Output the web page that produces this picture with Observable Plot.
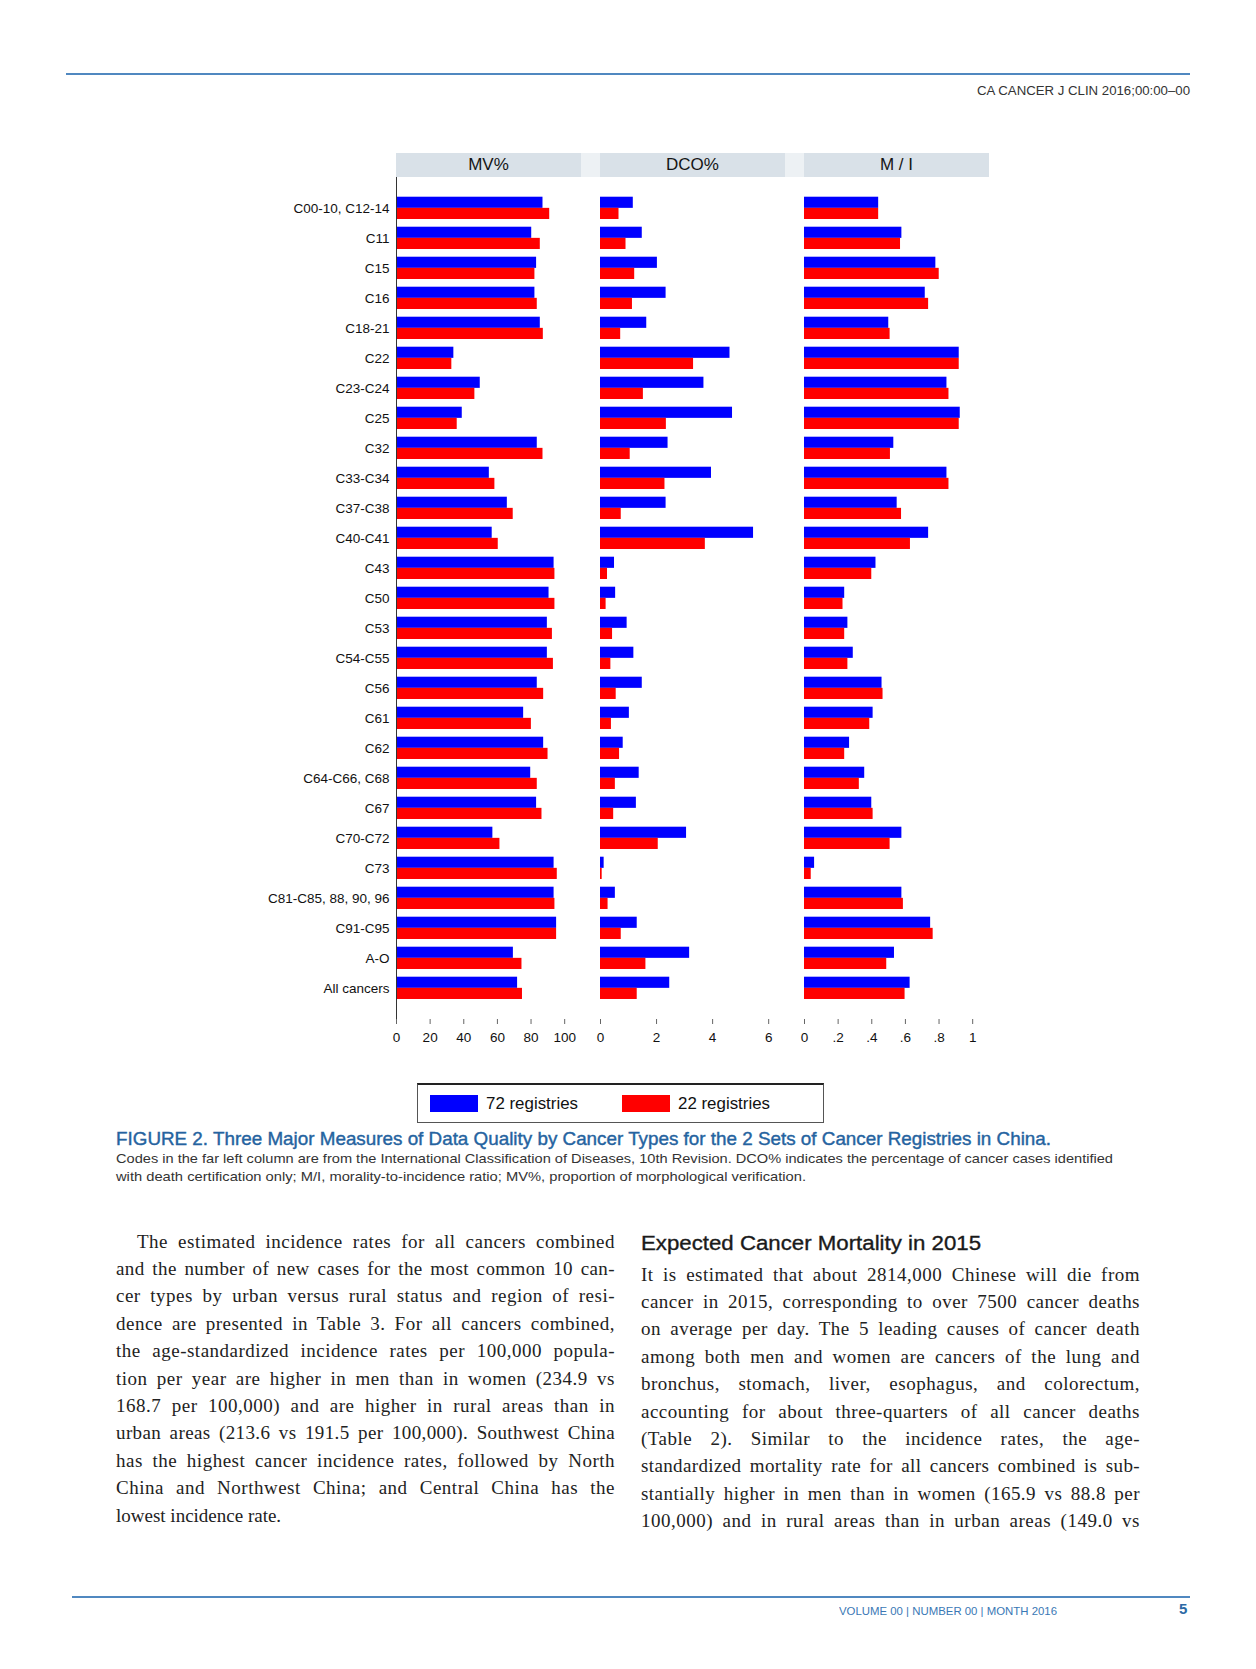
<!DOCTYPE html>
<html><head><meta charset="utf-8">
<script src="https://cdn.jsdelivr.net/npm/d3@7"></script>
<script src="https://cdn.jsdelivr.net/npm/@observablehq/plot@0.6"></script>
<style>
html,body{margin:0;padding:0;background:#fff;}
#page{position:relative;width:1256px;height:1669px;overflow:hidden;background:#fff;font-family:"Liberation Sans",Arial,sans-serif;}
.abs{position:absolute;}
.ln{white-space:nowrap;display:inline-block;}
</style></head>
<body><div id="page"></div>
<script>
// ---------- data ----------
const categories = ["C00-10, C12-14","C11","C15","C16","C18-21","C22","C23-C24","C25","C32","C33-C34","C37-C38","C40-C41","C43","C50","C53","C54-C55","C56","C61","C62","C64-C66, C68","C67","C70-C72","C73","C81-C85, 88, 90, 96","C91-C95","A-O","All cancers"];
const seriesNames = ["72 registries","22 registries"];
const mv72  = [87.1,80.4,83.3,82.3,85.5,34.1,49.8,39.1,83.7,55.2,65.9,56.9,93.7,90.7,89.7,89.7,83.7,75.6,87.5,79.8,83.3,57.3,93.7,93.7,95.2,69.5,72.0];
const mv22  = [91.1,85.5,82.3,83.7,87.3,32.9,46.6,36.1,87.1,58.5,69.4,60.5,94.2,94.2,92.7,93.3,87.5,80.2,90.1,83.7,86.5,61.5,95.6,94.2,95.2,74.6,74.9];
const dco72 = [1.17,1.49,2.03,2.34,1.65,4.62,3.69,4.71,2.41,3.96,2.34,5.46,0.50,0.54,0.95,1.19,1.49,1.03,0.81,1.38,1.28,3.07,0.13,0.53,1.31,3.18,2.47];
const dco22 = [0.66,0.91,1.22,1.14,0.72,3.32,1.53,2.35,1.06,2.30,0.74,3.74,0.25,0.20,0.43,0.37,0.56,0.39,0.68,0.53,0.47,2.06,0.06,0.27,0.74,1.62,1.31];
const mi72  = [0.441,0.579,0.781,0.718,0.501,0.920,0.847,0.926,0.531,0.847,0.551,0.738,0.425,0.239,0.258,0.290,0.461,0.408,0.268,0.358,0.400,0.579,0.060,0.579,0.750,0.535,0.628];
const mi22  = [0.441,0.571,0.801,0.738,0.509,0.920,0.859,0.920,0.511,0.859,0.577,0.630,0.400,0.229,0.239,0.258,0.467,0.388,0.239,0.326,0.408,0.509,0.040,0.588,0.765,0.489,0.598];
const panelTitles = ["MV%","DCO%","M / I"];
const mvTicks = [0,20,40,60,80,100];
const dcoTicks = [0,2,4,6];
const miTicks = [0,0.2,0.4,0.6,0.8,1];

const rows = categories.map((c,i)=>({cat:c, mv72:mv72[i], mv22:mv22[i], dco72:dco72[i], dco22:dco22[i], mi72:mi72[i], mi22:mi22[i]}));

const page = document.getElementById("page");
const BLUE = "#0000ff", RED = "#ff0000";
const PAD = 0.257, STEP = 30, HALF = STEP*(1-PAD)/2;

function panel(o){
  const marks = [
    Plot.barX(rows,{x:o.k72, y:"cat", fill:BLUE, insetBottom:HALF}),
    Plot.barX(rows,{x:o.k22, y:"cat", fill:RED, insetTop:HALF}),
    Plot.axisX({ticks:o.ticks, tickFormat:o.fmt, tickSize:5, tickPadding:8, line:true, stroke:"#666", fill:"#111", label:null})
  ];
  if (o.yAxis){
    marks.push(Plot.axisY({tickSize:0, tickPadding:7, fill:"#111", label:null}));
    marks.push(Plot.ruleX([0],{stroke:"#333", strokeWidth:1}));
  }
  const svg = Plot.plot({
    width:o.width, height:875, marginLeft:o.ml, marginRight:10, marginTop:0, marginBottom:33,
    style:{fontSize:"13.5px", fontFamily:"'Liberation Sans', Arial, sans-serif", color:"#111", background:"transparent", overflow:"visible"},
    x:{domain:o.domain, axis:null},
    y:{domain:categories, padding:PAD, round:false, insetTop:12, insetBottom:12.3, axis:null},
    marks
  });
  const d = document.createElement("div");
  d.className="abs"; d.style.left=o.left+"px"; d.style.top="177px";
  d.appendChild(svg); page.appendChild(d);
}
panel({k72:"mv72",k22:"mv22",domain:[0,110],ticks:mvTicks,fmt:d=>String(d),yAxis:true,left:226,ml:170,width:365});
panel({k72:"dco72",k22:"dco22",domain:[0,6.6],ticks:dcoTicks,fmt:d=>String(d),yAxis:false,left:590,ml:10,width:205});
panel({k72:"mi72",k22:"mi22",domain:[0,1.1],ticks:miTicks,fmt:d=>d===0?"0":d===1?"1":String(d).replace(/^0/,""),yAxis:false,left:794,ml:10,width:205});

// ---------- panel header strips ----------
function box(x,y,w,h,css){const d=document.createElement("div");d.className="abs";Object.assign(d.style,{left:x+"px",top:y+"px",width:w+"px",height:h+"px"},css||{});page.appendChild(d);return d;}
box(396,153,593,24,{background:"#edf1f4"});
[[396,panelTitles[0]],[600,panelTitles[1]],[804,panelTitles[2]]].forEach(([x,t])=>{
  const s=box(x,153,185,24,{background:"#d9e1e8",color:"#151515",fontSize:"17px",lineHeight:"24px",textAlign:"center",fontFamily:"'Liberation Sans',Arial,sans-serif"});
  s.textContent=t;
});

// ---------- legend ----------
box(417,1083,405,37,{border:"1px solid #555",borderTop:"2px solid #222",background:"#fff"});
box(430,1095,48,17,{background:BLUE});
box(622,1095,48,17,{background:RED});
function txt(t,o){
  const d=document.createElement("div");d.className="abs";
  d.style.left=o.x+"px"; d.style.top=(o.y-o.size*0.6)+"px"; d.style.lineHeight=(o.size*1.2)+"px";
  const s=document.createElement("span");s.className="ln";s.textContent=t;
  Object.assign(s.style,{fontSize:o.size+"px",fontFamily:o.family||"'Liberation Sans',Arial,sans-serif",color:o.color||"#222",fontWeight:o.weight||"normal"});
  if(o.stroke){s.style.webkitTextStroke=o.stroke+"px "+(o.color||"#222");}
  d.appendChild(s);page.appendChild(d);
  const w=s.getBoundingClientRect().width;
  if(o.w){
    if(o.justify && w<o.w){
      const extra=o.w-w, n=t.length, gaps=(t.match(/ /g)||[]).length;
      const ls=Math.min(extra*0.45/n,0.5);
      s.style.letterSpacing=ls+"px";
      const rem=extra-ls*n;
      if(gaps) s.style.wordSpacing=(rem/gaps)+"px";
    } else if(!o.justify || w>o.w){
      s.style.transformOrigin="left center";
      s.style.transform=`scaleX(${o.w/w})`;
    }
  }
  return s;
}
txt(seriesNames[0],{x:486,y:1104,size:16.5,color:"#111",w:92});
txt(seriesNames[1],{x:678,y:1104,size:16.5,color:"#111",w:92});

// ---------- page furniture ----------
box(66,73,1124,2,{background:"#5088c0"});
txt("CA CANCER J CLIN 2016;00:00–00",{x:977,y:90,size:12,color:"#333",w:213});
txt("FIGURE 2. Three Major Measures of Data Quality by Cancer Types for the 2 Sets of Cancer Registries in China.",{x:116,y:1139,size:18.5,color:"#2563a0",w:935,stroke:0.4});
txt("Codes in the far left column are from the International Classification of Diseases, 10th Revision. DCO% indicates the percentage of cancer cases identified",{x:116,y:1158,size:13.5,color:"#333",w:997});
txt("with death certification only; M/I, morality-to-incidence ratio; MV%, proportion of morphological verification.",{x:116,y:1176,size:13.5,color:"#333",w:690});

const serif="'Liberation Serif','Times New Roman',serif";
const leftLines=["The estimated incidence rates for all cancers combined","and the number of new cases for the most common 10 can-","cer types by urban versus rural status and region of resi-","dence are presented in Table 3. For all cancers combined,","the age-standardized incidence rates per 100,000 popula-","tion per year are higher in men than in women (234.9 vs","168.7 per 100,000) and are higher in rural areas than in","urban areas (213.6 vs 191.5 per 100,000). Southwest China","has the highest cancer incidence rates, followed by North","China and Northwest China; and Central China has the","lowest incidence rate."];
leftLines.forEach((t,k)=>{
  const first=k===0,last=k===leftLines.length-1;
  txt(t,{x:first?137:116,y:1242+k*27.4,size:19,family:serif,color:"#222",w:last?null:(first?478:499),justify:true});
});
txt("Expected Cancer Mortality in 2015",{x:641,y:1243,size:20.5,color:"#1a1a1a",w:340,stroke:0.35});
const rightLines=["It is estimated that about 2814,000 Chinese will die from","cancer in 2015, corresponding to over 7500 cancer deaths","on average per day. The 5 leading causes of cancer death","among both men and women are cancers of the lung and","bronchus, stomach, liver, esophagus, and colorectum,","accounting for about three-quarters of all cancer deaths","(Table 2). Similar to the incidence rates, the age-","standardized mortality rate for all cancers combined is sub-","stantially higher in men than in women (165.9 vs 88.8 per","100,000) and in rural areas than in urban areas (149.0 vs"];
rightLines.forEach((t,k)=>{
  txt(t,{x:641,y:1275+k*27.4,size:19,family:serif,color:"#222",w:499,justify:true});
});
box(72,1596,1118,1.5,{background:"#5088c0"});
txt("VOLUME 00 | NUMBER 00 | MONTH 2016",{x:839,y:1610,size:11,color:"#3a78b5",w:218});
txt("5",{x:1179,y:1609,size:15,color:"#2d6aa5",weight:"bold"});
</script>
</body></html>
